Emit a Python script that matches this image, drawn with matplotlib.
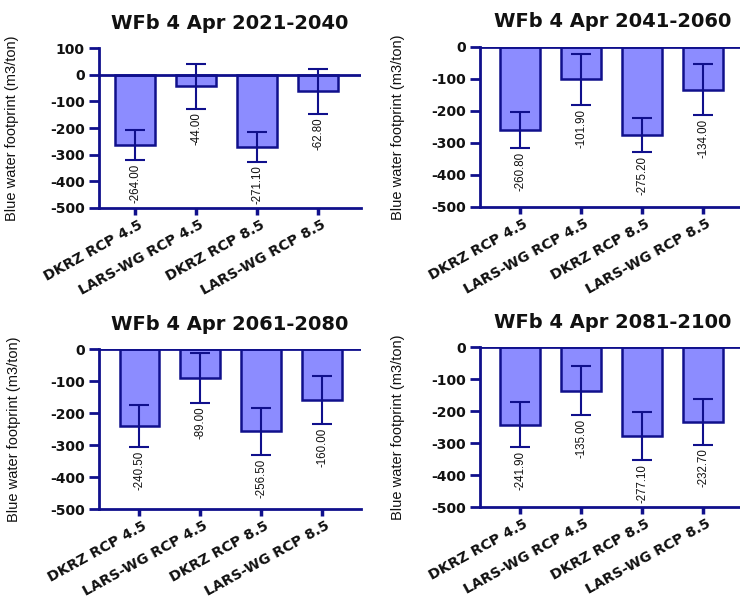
import matplotlib
matplotlib.use("Agg")
import matplotlib.pyplot as plt
import matplotlib.transforms as mtransforms

# --- data -------------------------------------------------------------
categories = ["DKRZ RCP 4.5", "LARS-WG RCP 4.5", "DKRZ RCP 8.5", "LARS-WG RCP 8.5"]

titles = ["WFb 4 Apr 2021-2040", "WFb 4 Apr 2041-2060",
          "WFb 4 Apr 2061-2080", "WFb 4 Apr 2081-2100"]

values_2021_2040 = [-264.00, -44.00, -271.10, -62.80]
errors_2021_2040 = [57, 84, 57, 83]

values_2041_2060 = [-260.80, -101.90, -275.20, -134.00]
errors_2041_2060 = [56, 80, 54, 80]

values_2061_2080 = [-240.50, -89.00, -256.50, -160.00]
errors_2061_2080 = [66, 78, 74, 75]

values_2081_2100 = [-241.90, -135.00, -277.10, -232.70]
errors_2081_2100 = [70, 77, 76, 72]

y_limits = [(-500, 100), (-500, 0), (-500, 0), (-500, 0)]
y_label = "Blue water footprint (m3/ton)"

# --- style ------------------------------------------------------------
plt.rcParams["axes.unicode_minus"] = False

NAVY = "#10108c"
FILL = "#8c8cff"
TEXT = "#111111"
BOLD_FONT = ["DejaVu Sans"]
PLAIN_FONT = ["Liberation Sans", "DejaVu Sans"]

fig = plt.figure(figsize=(7.40, 6.01), dpi=100)

# [left, bottom, width, height], x-limits, y-label x position (axes fraction)
panels = [
    ([0.1334, 0.654, 0.354, 0.266], (-0.60, 3.70), -0.304),
    ([0.6486, 0.656, 0.3595, 0.266], (-0.66, 3.70), -0.282),
    ([0.1340, 0.153, 0.354, 0.266], (-0.66, 3.64), -0.298),
    ([0.6486, 0.156, 0.3595, 0.266], (-0.66, 3.70), -0.282),
]

series = [
    (values_2021_2040, errors_2021_2040),
    (values_2041_2060, errors_2041_2060),
    (values_2061_2080, errors_2061_2080),
    (values_2081_2100, errors_2081_2100),
]

x = list(range(len(categories)))

for (rect, xlim, ylab_x), (vals, errs), title, ylim in zip(panels, series, titles, y_limits):
    ax = fig.add_axes(rect)
    ax.bar(x, vals, width=0.65, color=FILL, edgecolor=NAVY, linewidth=1.8, zorder=2)
    ax.errorbar(x, vals, yerr=errs, fmt="none", ecolor=NAVY, elinewidth=1.5,
                capsize=7, capthick=1.5, zorder=3)
    ax.axhline(0, color=NAVY, linewidth=2, zorder=4)

    for xi, v, e in zip(x, vals, errs):
        ax.annotate(f"{v:.2f}", xy=(xi, v - e), xytext=(0, -2.5),
                    textcoords="offset points", rotation=90,
                    ha="center", va="top", fontsize=8.3,
                    family=PLAIN_FONT, color=TEXT)

    ax.set_xlim(*xlim)
    ax.set_ylim(*ylim)
    ax.set_yticks(range(ylim[0], ylim[1] + 1, 100))

    for side in ("top", "right"):
        ax.spines[side].set_visible(False)
    for side in ("left", "bottom"):
        ax.spines[side].set_color(NAVY)
        ax.spines[side].set_linewidth(2)

    ax.tick_params(axis="y", length=7, width=2, color=NAVY, pad=3,
                   labelsize=10, labelcolor=TEXT)
    ax.tick_params(axis="x", length=5, width=2.5, color=NAVY, pad=2,
                   labelsize=10.2, labelcolor=TEXT)
    for lab in ax.get_yticklabels():
        lab.set_fontweight("bold")
        lab.set_family(BOLD_FONT)

    ax.set_xticks(x)
    ax.set_xticklabels(categories, rotation=29, ha="right",
                       rotation_mode="anchor", fontweight="bold",
                       family=BOLD_FONT)
    shift = mtransforms.ScaledTranslation(2 / 72, 0, fig.dpi_scale_trans)
    for lab in ax.get_xticklabels():
        lab.set_transform(lab.get_transform() + shift)

    ax.set_ylabel(y_label, family=PLAIN_FONT, fontsize=10.5, color=TEXT)
    ax.yaxis.set_label_coords(ylab_x, 0.5)
    ax.set_title(title, fontsize=14, fontweight="bold", family=BOLD_FONT,
                 color=TEXT, pad=14)

fig.savefig("out.png", dpi=100)
